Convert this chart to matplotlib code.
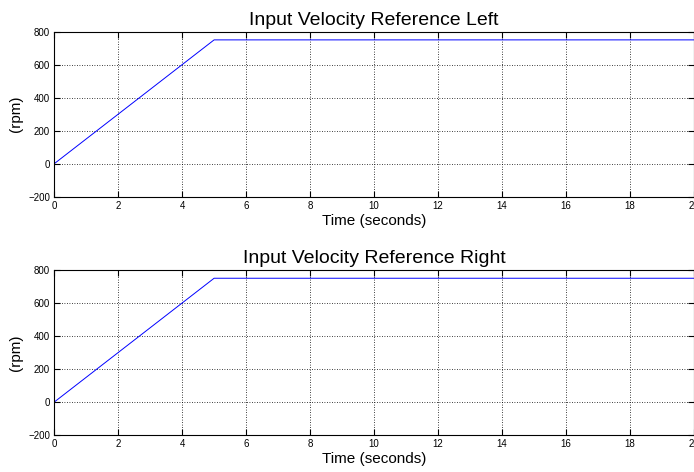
import matplotlib
matplotlib.use('Agg')
import matplotlib.pyplot as plt

# velocity reference profile (ramp then hold)
time_s = [0, 5, 20]
left_rpm = [0, 750, 750]
right_rpm = [0, 750, 750]

x_ticks = [0, 2, 4, 6, 8, 10, 12, 14, 16, 18, 20]
y_ticks = [-200, 0, 200, 400, 600, 800]

plt.rcParams['font.family'] = 'Liberation Sans'

fig = plt.figure(figsize=(6.94, 4.72), dpi=100)

panels = [
    (left_rpm, 'Input Velocity Reference Left', [0.078, 0.583, 0.922, 0.350]),
    (right_rpm, 'Input Velocity Reference Right', [0.078, 0.078, 0.922, 0.350]),
]

for values, title, rect in panels:
    ax = fig.add_axes(rect)
    ax.plot(time_s, values, color='blue', linewidth=0.7)
    ax.set_xlim(0, 20)
    ax.set_ylim(-200, 800)
    ax.set_xticks(x_ticks)
    ax.set_yticks(y_ticks)
    ax.tick_params(direction='in', length=4, width=0.8, labelsize=7,
                   top=True, right=True, pad=3, colors='black')
    ax.grid(True, color='black', linestyle=(0, (1, 2)), linewidth=0.6)
    for s in ax.spines.values():
        s.set_linewidth(0.8)
    ax.set_title(title, fontsize=14, pad=5)
    ax.set_xlabel('Time (seconds)', fontsize=11, labelpad=2)
    ax.set_ylabel('(rpm)', fontsize=11, labelpad=4)

plt.savefig('out.png', dpi=100)
